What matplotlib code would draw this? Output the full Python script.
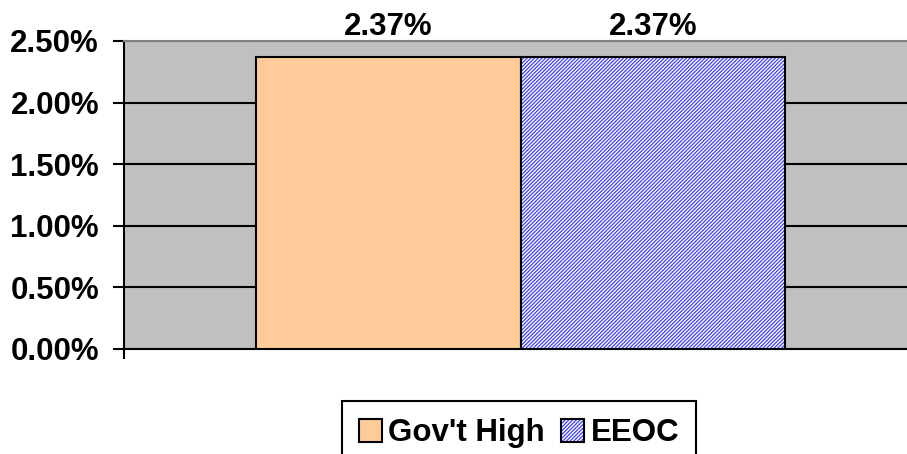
import matplotlib.pyplot as plt
from matplotlib.patches import Patch
from matplotlib.legend_handler import HandlerTuple
from matplotlib.ticker import FuncFormatter

plt.rcParams['font.family'] = ['Liberation Sans', 'DejaVu Sans']
plt.rcParams['font.weight'] = 'bold'
plt.rcParams['hatch.linewidth'] = 0.9

categories = ["Gov't High", "EEOC"]
values = [2.37, 2.37]
yticks = [0.0, 0.5, 1.0, 1.5, 2.0, 2.5]

HATCH = '/' * 9
HATCH_COLOR = '#4040ff'

fig = plt.figure(figsize=(9.07, 4.54), dpi=100)
ax = fig.add_axes([124/907, 1 - 349/454, 783/907, 308/454])
ax.set_facecolor('#c0c0c0')

# first bar plain
ax.bar(0, values[0], width=1, color='#ffcc99', edgecolor='black', linewidth=1.5, zorder=3)
# second bar: hatch layer then outline
ax.bar(1, values[1], width=1, color='white', edgecolor=HATCH_COLOR, hatch=HATCH, linewidth=0, zorder=3)
ax.bar(1, values[1], width=1, fill=False, edgecolor='black', linewidth=1.5, zorder=4)

for i, v in enumerate(values):
    ax.text(i, v + 0.24, f'{v:.2f}%', ha='center', va='center', fontsize=22.5,
            fontweight='bold', clip_on=False)

ax.set_xlim(-1.0, 1.962)
ax.set_ylim(0, 2.5)
ax.set_yticks(yticks)
ax.yaxis.set_major_formatter(FuncFormatter(lambda y, p: f'{y:.2f}%'))
ax.yaxis.grid(True, color='black', linewidth=1.5, zorder=1)
ax.set_axisbelow(True)
ax.set_xticks([-1.0])
ax.set_xticklabels([''])
ax.tick_params(axis='y', length=8, width=1.5, labelsize=22.5, pad=10)
ax.tick_params(axis='x', length=7, width=1.5)

for s in ['left', 'bottom']:
    ax.spines[s].set_linewidth(1.5)
    ax.spines[s].set_color('black')
ax.spines['top'].set_color('#808080')
ax.spines['top'].set_linewidth(1.5)
ax.spines['right'].set_visible(False)

h1 = Patch(facecolor='#ffcc99', edgecolor='black', linewidth=1.5)
h2a = Patch(facecolor='white', edgecolor=HATCH_COLOR, hatch=HATCH, linewidth=0)
h2b = Patch(fill=False, edgecolor='black', linewidth=1.5)
leg = fig.legend([h1, (h2a, h2b)], categories, loc='upper center',
                 bbox_to_anchor=(519/907, 1 - 401/454), ncol=2, fontsize=22.5,
                 handler_map={tuple: HandlerTuple(ndivide=1, pad=0)},
                 fancybox=False, edgecolor='black', framealpha=1,
                 handlelength=0.75, handleheight=0.75, handletextpad=0.2,
                 columnspacing=0.5, borderpad=0.55, borderaxespad=0)
leg.get_frame().set_linewidth(1.5)

fig.savefig('out.png', dpi=100)
